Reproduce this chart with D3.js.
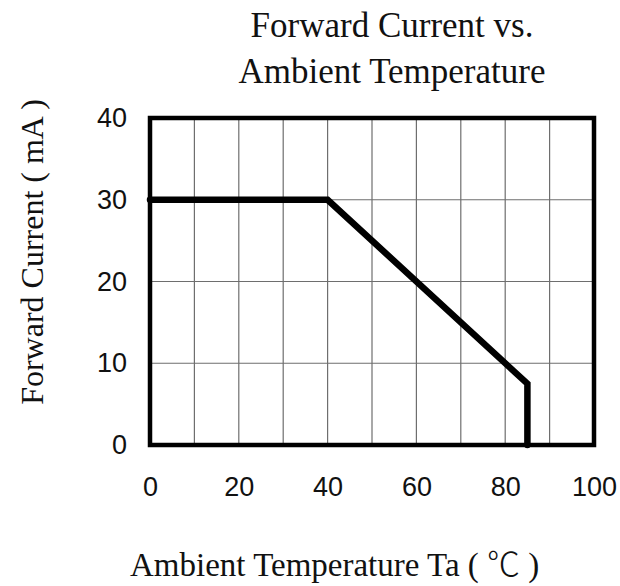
<!DOCTYPE html>
<html><head><meta charset="utf-8">
<script src="https://cdn.jsdelivr.net/npm/d3@7"></script>
<style>body{margin:0;background:#fff}svg{display:block}</style>
</head><body>
<script>
const temperature = [0, 40, 85, 85];
const current = [30, 30, 7.5, 0];
const xTicks = [0, 20, 40, 60, 80, 100];
const yTicks = [0, 10, 20, 30, 40];
const gridX = [10, 20, 30, 40, 50, 60, 70, 80, 90];
const gridY = [10, 20, 30];
const titleLines = ["Forward Current vs.", "Ambient Temperature"];
const xTitleParts = ["Ambient Temperature Ta ( ", "\u2103", " )"];
const yTitle = "Forward Current ( mA )";

const W = 620, H = 586;
const L = 150, R = 594, T = 118, B = 445;
const svg = d3.select("body").append("svg").attr("width", W).attr("height", H);
const x = d3.scaleLinear().domain([0, 100]).range([L, R]);
const y = d3.scaleLinear().domain([0, 40]).range([B, T]);
const serif = "'Liberation Serif','Times New Roman',serif";
const sans = "'Liberation Sans',Arial,sans-serif";

// grid
svg.append("g").selectAll("line").data(gridX).join("line")
  .attr("x1", d => x(d)).attr("x2", d => x(d)).attr("y1", T).attr("y2", B)
  .attr("stroke", "#6e6e6e").attr("stroke-width", 1.2);
svg.append("g").selectAll("line").data(gridY).join("line")
  .attr("x1", L).attr("x2", R).attr("y1", d => y(d)).attr("y2", d => y(d))
  .attr("stroke", "#6e6e6e").attr("stroke-width", 1.2);

// axes (labels only)
const xa = svg.append("g").attr("transform", `translate(0,${B})`)
  .call(d3.axisBottom(x).tickValues(xTicks).tickSize(0).tickPadding(32));
const ya = svg.append("g").attr("transform", `translate(${L},0)`)
  .call(d3.axisLeft(y).tickValues(yTicks).tickSize(0).tickPadding(23));
[xa, ya].forEach(a => {
  a.select(".domain").remove();
  a.selectAll("text").attr("font-family", sans).attr("font-size", 27).attr("fill", "#111");
});

// frame
svg.append("rect").attr("x", L).attr("y", T).attr("width", R - L).attr("height", B - T)
  .attr("fill", "none").attr("stroke", "#000").attr("stroke-width", 4.5);

// data line
const pts = temperature.map((t, i) => [t, current[i]]);
svg.append("path").datum(pts)
  .attr("d", d3.line().x(d => x(d[0])).y(d => y(d[1])))
  .attr("fill", "none").attr("stroke", "#000").attr("stroke-width", 6.5)
  .attr("stroke-linecap", "round").attr("stroke-linejoin", "miter");

// titles
svg.append("g").selectAll("text").data(titleLines).join("text")
  .attr("x", 392).attr("y", (d, i) => 37 + i * 46)
  .attr("text-anchor", "middle").attr("font-family", serif).attr("font-size", 35)
  .attr("fill", "#111").text(d => d);
const xt = svg.append("text").attr("x", 130).attr("y", 576)
  .attr("font-family", serif).attr("font-size", 33).attr("fill", "#111");
xt.selectAll("tspan").data(xTitleParts).join("tspan")
  .attr("font-family", (d, i) => i === 1 ? "'Noto Sans CJK SC',serif" : serif)
  .attr("font-weight", (d, i) => i === 1 ? 300 : 400)
  .text(d => d);
svg.append("text").attr("transform", "translate(43,252) rotate(-90)")
  .attr("text-anchor", "middle").attr("font-family", serif).attr("font-size", 32)
  .attr("fill", "#111").text(yTitle);
</script>
</body></html>
